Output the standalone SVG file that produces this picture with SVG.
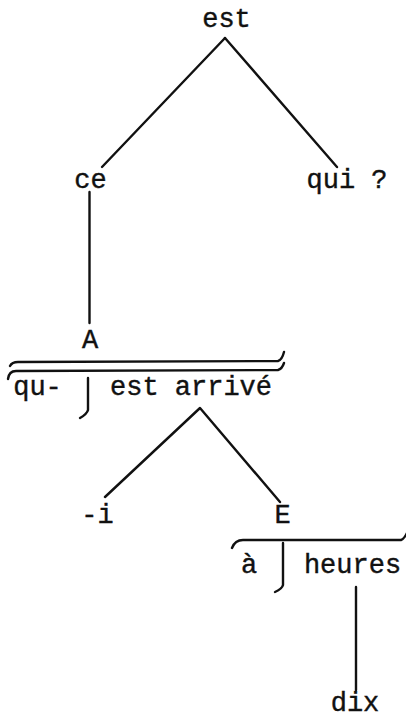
<svg xmlns="http://www.w3.org/2000/svg" width="406" height="720" viewBox="0 0 406 720">
<style>
text{font-family:"Liberation Mono","DejaVu Sans Mono",monospace;font-size:27px;fill:#111;stroke:#111;stroke-width:0.4;text-anchor:middle}
.l{stroke:#111;stroke-width:2.4;fill:none;stroke-linecap:round;stroke-linejoin:round}
</style>
<rect width="406" height="720" fill="#fff"/>
<g id="connectors">
<line class="l" x1="225" y1="38" x2="102" y2="167"/>
<line class="l" x1="225" y1="38" x2="337" y2="167"/>
<line class="l" x1="89.5" y1="192" x2="89.5" y2="323"/>
<path class="l" d="M105,497 L200,408 L280,502"/>
<line class="l" x1="356" y1="587" x2="356" y2="690"/>
</g>
<g id="n-est"><text x="226.5" y="27">est</text></g>
<g id="n-ce"><text x="90.5" y="188">ce</text></g>
<g id="n-qui"><text x="347" y="188">qui ?</text></g>
<g id="n-A"><text x="90" y="348">A</text></g>
<g id="n-qu-est-arrive">
<path class="l" d="M10,366 Q12,362 18,362 L278,361 Q282,360 284,352"/>
<path class="l" d="M8,379 Q9,371 16,371 L278,370 Q282,369 284,363"/>
<path class="l" d="M88,378 L88,410 Q87,414 80,418"/>
<text x="37.5" y="395">qu-</text>
<text x="191" y="395">est arrivé</text>
</g>
<g id="n-i"><text x="97.5" y="523">-i</text></g>
<g id="n-E"><text x="282.5" y="523">E</text></g>
<g id="n-a-heures">
<path class="l" d="M232,548 Q235,540 243,540 L401,540 Q404,539 407,533"/>
<path class="l" d="M283,543 L283,585 Q282,589 275,592"/>
<text x="249" y="573">à</text>
<text x="352.5" y="573">heures</text>
</g>
<g id="n-dix"><text x="355" y="711">dix</text></g>
</svg>
